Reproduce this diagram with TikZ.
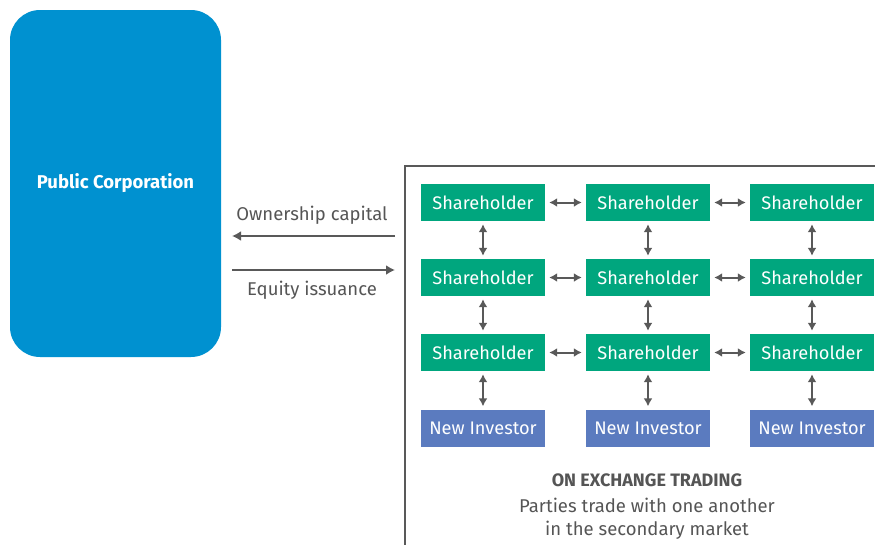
\documentclass[tikz,border=0pt]{standalone}
\usepackage{fontspec}
\setmainfont{Fira Sans}
\usetikzlibrary{arrows,arrows.meta}
\definecolor{corpblue}{HTML}{0091D0}
\definecolor{holdgreen}{HTML}{00A67E}
\definecolor{newblue}{HTML}{5B7BBF}
\definecolor{linegrey}{HTML}{595959}
\definecolor{textgrey}{HTML}{555555}

\tikzset{
    corp/.style={fill=corpblue, text=white, rounded corners=30pt,
        minimum width=211pt, minimum height=347pt, inner sep=0pt,
        font=\fontsize{18.5}{22}\selectfont\bfseries},
    holder/.style={fill=holdgreen, text=white, minimum width=124pt,
        minimum height=37pt, inner sep=0pt, font=\fontsize{18.2}{21}\selectfont},
    newinv/.style={holder, fill=newblue},
    link/.style={linegrey, line width=2pt,
        {Latex[length=8pt,width=9pt]}-{Latex[length=8pt,width=9pt]}},
    flow/.style={linegrey, line width=2pt, -{Latex[length=9pt,width=10pt]}},
    note/.style={text=textgrey, font=\fontsize{18.5}{22}\selectfont}
}

\begin{document}
\begin{tikzpicture}[x=1pt, y=-1pt]
    \useasboundingbox (0,0) rectangle (875,544);
    \clip (0,0) rectangle (875,544);

    % issuer
    \node[corp] (corp) at (115.5,183.5) {Public Corporation};

    % market frame
    \draw [linegrey, line width=2pt] (890,166) -- (405,166) -- (405,560);

    % traders
    \foreach \c/\x in {1/483,2/648,3/812} {
        \foreach \r/\y in {1/202.5,2/277.5,3/352.5}
            \node[holder] (s\r\c) at (\x,\y) {Shareholder};
        \node[newinv] (n\c) at (\x,428) {New Investor};
    }

    % trades
    \foreach \r in {1,2,3} {
        \draw[link, shorten <=4pt, shorten >=4pt] (s\r1) -- (s\r2);
        \draw[link, shorten <=4pt, shorten >=4pt] (s\r2) -- (s\r3);
    }
    \foreach \c in {1,2,3} {
        \draw[link, shorten <=3pt, shorten >=3pt] (s1\c) -- (s2\c);
        \draw[link, shorten <=3pt, shorten >=3pt] (s2\c) -- (s3\c);
        \draw[link, shorten <=3pt, shorten >=3pt] (s3\c) -- (n\c);
    }

    % capital flows
    \coordinate (capR) at (395,236);
    \coordinate (capL) at (232,236);
    \coordinate (eqL) at (232,270);
    \coordinate (eqR) at (395,270);
    \draw[flow] (capR) -- (capL);
    \draw[flow] (eqL) -- (eqR);
    \node[note] (cap) at (312,215) {Ownership capital};
    \node[note] (eq) at (312,290) {Equity issuance};

    % caption
    \node[note, font=\fontsize{18}{22}\selectfont\bfseries] (title) at (647,480) {ON EXCHANGE TRADING};
    \node[note] (line1) at (647,505) {Parties trade with one another};
    \node[note] (line2) at (647,530) {in the secondary market};
\end{tikzpicture}
\end{document}
